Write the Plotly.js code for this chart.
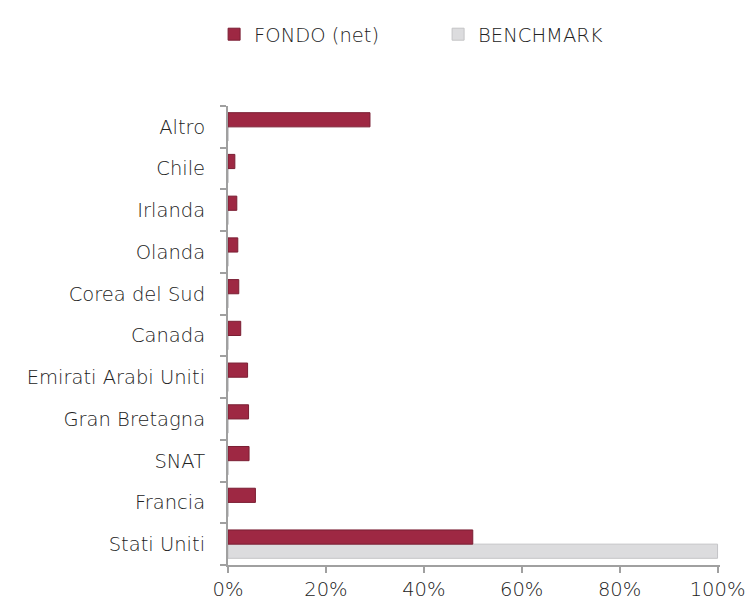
<!DOCTYPE html>
<html><head><meta charset="utf-8">
<script src="https://cdn.plot.ly/plotly-3.0.1.min.js"></script>
<style>html,body{margin:0;padding:0;background:#fff}#chart{width:746px;height:601px}</style>
</head><body><div id="chart"></div>
<script>
const categories = ["Stati Uniti","Francia","SNAT","Gran Bretagna","Emirati Arabi Uniti","Canada","Corea del Sud","Olanda","Irlanda","Chile","Altro"];
const fondo = [50.0, 5.6, 4.3, 4.2, 4.0, 2.6, 2.2, 2.0, 1.8, 1.4, 29.0];
const benchmark = [100.0, 0, 0, 0, 0, 0, 0, 0, 0, 0, 0];
const xTicks = [0, 20, 40, 60, 80, 100];
const xTickText = ["0%","20%","40%","60%","80%","100%"];

const font = {family: "'DejaVu Sans', sans-serif", size: 19.5, color: "#222222", weight: 200};
const traces = [
  {type:"bar", orientation:"h", name:"BENCHMARK", y:categories, x:benchmark,
   marker:{color:"#DCDCDE", line:{color:"#C4C4C6", width:1}}, legendrank:2, hoverinfo:"x+y"},
  {type:"bar", orientation:"h", name:"FONDO (net)", y:categories, x:fondo,
   marker:{color:"#9E2843", line:{color:"#7A1E33", width:1}}, legendrank:1, hoverinfo:"x+y"}
];
const layout = {
  width:746, height:601,
  margin:{l:228, r:26, t:106, b:36},
  paper_bgcolor:"#ffffff", plot_bgcolor:"#ffffff",
  font: font,
  barmode:"group", bargap:0.32, bargroupgap:0,
  showlegend:true,
  legend:{orientation:"h", x:0.287, xref:"container", y:0.975, yref:"container", yanchor:"top",
          font:font, itemwidth:30,
          entrywidth:179, entrywidthmode:"pixels", itemclick:false, traceorder:"normal"},
  xaxis:{range:[0,100.5], tickvals:xTicks, ticktext:xTickText, showgrid:false, zeroline:false,
         showline:true, linecolor:"#A0A0A0", linewidth:2, ticks:"outside", ticklen:6, tickcolor:"#A0A0A0",
         tickwidth:2, fixedrange:true},
  yaxis:{type:"category", categoryorder:"array", categoryarray:categories, showgrid:false, zeroline:false,
         showline:true, linecolor:"#A0A0A0", linewidth:2, ticks:"outside", ticklen:6, tickcolor:"#A0A0A0",
         tickwidth:2, tickson:"boundaries", ticklabelstandoff:17, fixedrange:true}
};
Plotly.newPlot("chart", traces, layout, {displayModeBar:false, staticPlot:true});
</script></body></html>
